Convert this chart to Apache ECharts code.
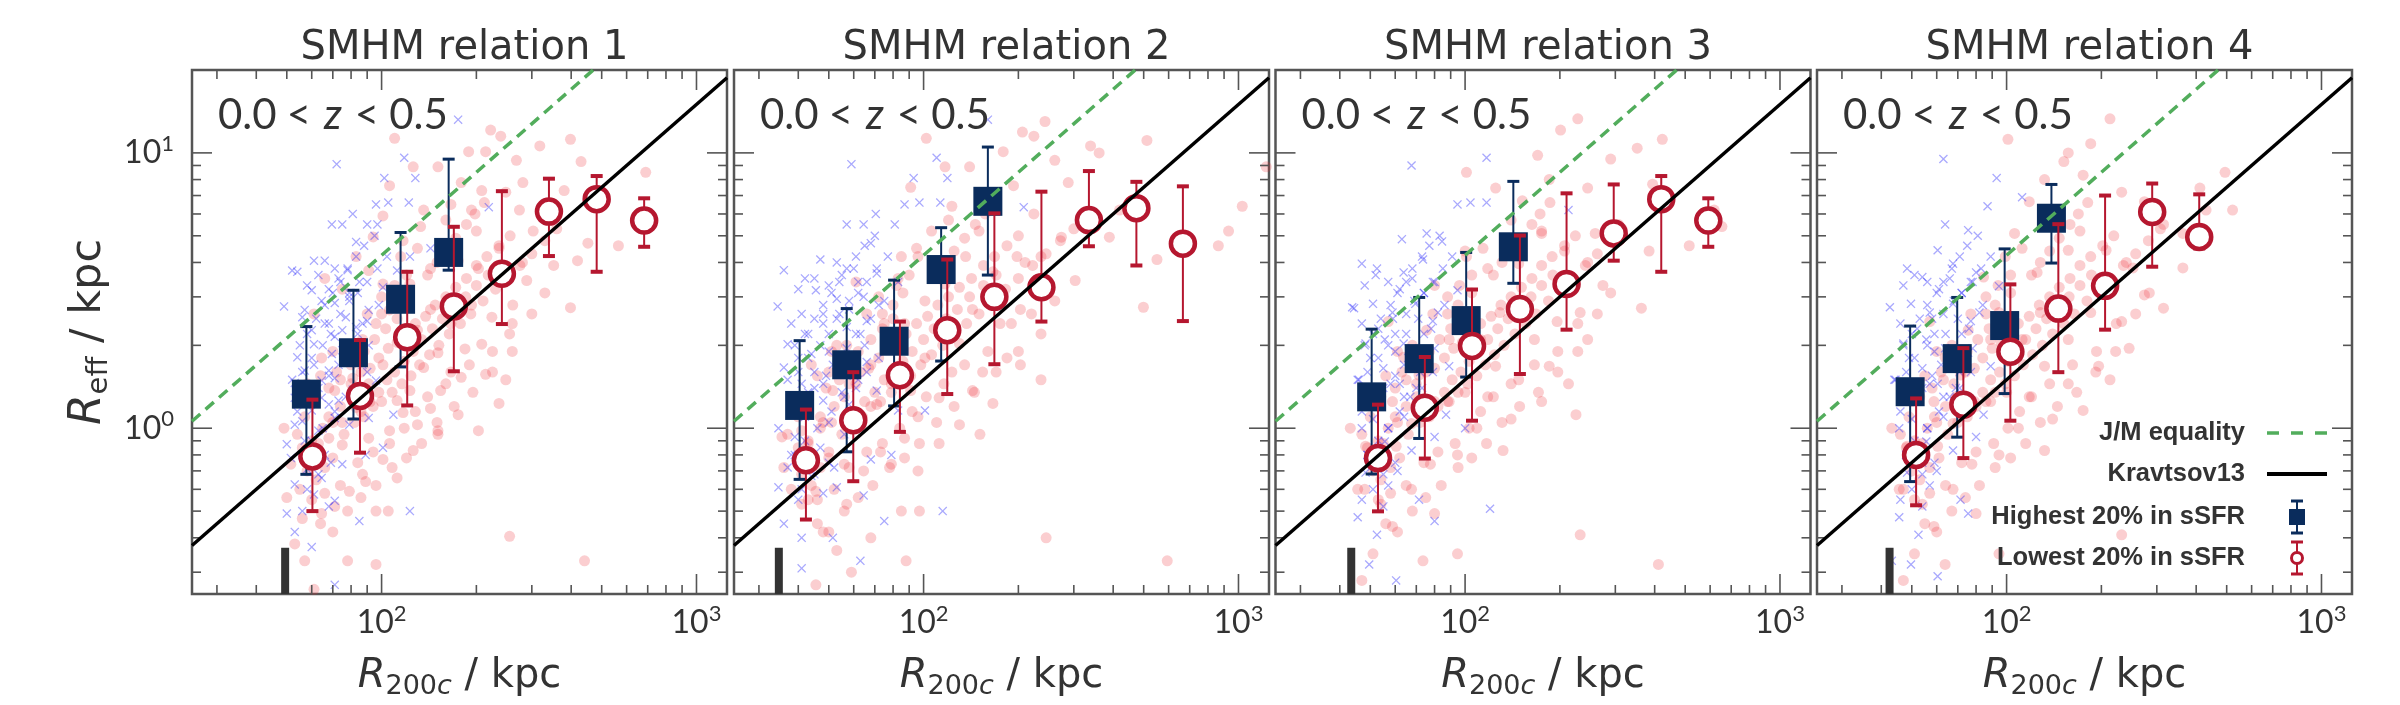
<!DOCTYPE html>
<html>
<head>
<meta charset="utf-8">
<script src="https://cdn.jsdelivr.net/npm/echarts@6.0.0/dist/echarts.min.js"></script>
<style>
html,body{margin:0;padding:0;background:#fff;}
#chart{width:2400px;height:705px;}
</style>
</head>
<body>
<div id="chart"></div>
<script>
// ---------------- DATA ----------------
const panelTitles = ['SMHM relation 1', 'SMHM relation 2', 'SMHM relation 3', 'SMHM relation 4'];
const redshiftLabel = ['0.0', '<', 'z', '<', '0.5'];
const xTitle = ['R', '200', 'c', ' / kpc'];
const yTitle = ['R', 'eff', ' / kpc'];
const legendLabels = ['J/M equality', 'Kravtsov13', 'Highest 20% in sSFR', 'Lowest 20% in sSFR'];

const xRange = [25, 1250];
const yRange = [0.25, 20];
const xTickValues = [30, 40, 50, 60, 70, 80, 90, 100, 200, 300, 400, 500, 600, 700, 800, 900, 1000];
const yTickValues = [0.3, 0.4, 0.5, 0.6, 0.7, 0.8, 0.9, 1, 2, 3, 4, 5, 6, 7, 8, 9, 10];

// reference relations (two end points each)
const jmLine = [[25, 1.06], [470, 20]];
const kravLine = [[25, 0.375], [1250, 18.75]];

// completeness marker (R200c value per panel; drawn from y=0.25 up to massLimitTop)
const massLimit = [49.4, 34.7, 43.5, 42.5];
const massLimitTop = 0.368;

// binned medians: [R200c, Reff, lower, upper]
const hiSSFR1 = [[57.7,1.33,0.68,2.34],[81.4,1.88,1.08,3.17],[114.9,2.94,1.67,5.14],[163.3,4.35,3.75,9.49]];
const loSSFR1 = [[60.3,0.79,0.50,1.27],[85.4,1.31,0.815,2.09],[120.6,2.14,1.21,3.70],[169.6,2.77,1.61,5.39],[241,3.64,2.39,7.26],[340,6.12,4.22,8.06],[482,6.79,3.70,8.24],[682,5.68,4.56,6.84]];
const hiSSFR2 = [[40.4,1.21,0.652,2.08],[57.0,1.70,0.821,2.72],[80.6,2.07,1.205,3.45],[113.7,3.77,1.754,5.35],[160,6.67,3.60,10.5]];
const loSSFR2 = [[42.3,0.765,0.466,1.169],[59.8,1.069,0.642,1.598],[84.1,1.557,0.97,2.44],[118.9,2.27,1.331,4.10],[167.8,3.00,1.708,6.03],[236.7,3.25,2.44,7.23],[335,5.70,4.58,8.59],[474,6.30,3.90,7.85],[666,4.68,2.45,7.56]];
const hiSSFR3 = [[50.5,1.30,0.682,2.29],[71.5,1.79,0.918,2.985],[100.8,2.46,1.534,4.35],[142.3,4.56,3.36,7.88]];
const loSSFR3 = [[52.9,0.779,0.499,1.218],[74.5,1.187,0.776,1.814],[105.2,1.99,1.065,3.19],[149.3,2.71,1.574,5.01],[210,3.34,2.28,7.13],[296.5,5.10,4.06,7.68],[419.7,6.79,3.70,8.24],[592,5.68,4.56,6.84]];
const hiSSFR4 = [[49.4,1.357,0.64,2.35],[69.7,1.79,0.928,2.985],[98.6,2.36,1.336,4.48],[138.8,5.79,3.98,7.68]];
const loSSFR4 = [[51.6,0.80,0.525,1.283],[72.9,1.218,0.779,1.954],[102.8,1.896,1.065,3.33],[146,2.72,1.598,5.51],[205.5,3.29,2.28,7.00],[290,6.10,3.86,7.74],[409,4.95,4.5,7.07]];

// individual galaxies: outer parts of the clouds
const cloudBlue1 = [[72,9.1],[118,9.6],[102,8.1],[128,8.1],[96,6.5],[105,6.6],[122,6.6],[81,6.0],[69.5,5.5],[75,5.5],[90,5.5],[97,5.5],[83,4.75],[61,4.06],[66,4.06],[71,3.8],[78,3.75],[52,3.74],[60,3.17],[49,2.77],[57,2.69],[64.5,2.9],[71,2.85],[79,3.0],[91,2.69],[101,3.25],[112,3.74],[123,4.2],[143,4.5],[219,6.35],[175,13.2],[68,2.4],[75,2.27],[83,2.33],[61,2.02],[69.5,1.86],[77,1.74],[87,1.7],[57,1.62],[64.5,1.49],[71,1.52],[96,1.49],[53,1.29],[60,1.16],[68,1.22],[79,1.03],[91,1.09],[109,1.12],[53,1.03],[50,0.875],[57,0.9],[66,0.8],[75,0.74],[89,0.8],[101,0.85],[53,0.625],[61,0.575],[71,0.545],[85,0.46],[123,0.5],[53,0.42],[60,0.37],[71,0.27]];
const cloudRed1 = [[110,11.3],[222,12.1],[239,11.5],[398,11.2],[318,10.6],[189,10.1],[214,10.1],[268,9.4],[430,9.3],[690,8.5],[126,8.9],[151,8.9],[106,7.6],[179,7.8],[208,7.3],[248,7.2],[281,7.8],[380,7.3],[136,6.2],[166,6.5],[193,6.2],[274,6.2],[303,5.2],[452,4.7],[565,4.6],[419,4.06],[352,3.9],[289,3.44],[236,4.5],[203,3.8],[175,4.06],[143,3.8],[123,3.34],[398,2.74],[261,2.8],[224,2.53],[193,2.8],[166,2.4],[143,2.7],[130,2.27],[255,2.2],[208,2.02],[184,1.94],[151,1.88],[136,1.66],[179,1.53],[214,1.57],[248,1.5],[154,1.37],[123,1.37],[112,1.26],[143,1.18],[175,1.12],[130,1.03],[106,0.98],[151,0.95],[126,0.83],[101,0.77],[87,0.68],[96,0.5],[105,0.5],[112,0.66],[96,0.32],[78,0.33],[255,0.405],[441,0.33],[89,0.64],[79,0.59],[71,0.52],[64.5,0.49],[56,0.47],[53,0.38],[57,0.33],[61,0.26],[50,0.56],[49,1.0],[51.5,0.74],[57,0.78],[68,0.92],[75,1.05],[83,1.19],[91,1.45],[81,1.52],[71,1.37],[101,1.7],[87,2.1],[96,2.4],[106,2.69],[117,2.85],[101,3.34],[91,3.74],[83,4.2],[94,4.95],[117,4.8],[133,5.4],[101,5.9],[75,3.2],[66,3.5],[61,2.6],[64.5,1.8],[58,1.45],[75,0.87],[91,0.92],[117,1.14],[203,0.98],[236,1.23],[166,1.6],[151,0.98]];
const cloudBlue2 = [[59,9.1],[110,9.6],[93,8.1],[119,8.1],[87,6.5],[97,6.6],[113,6.6],[208,6.35],[160,13.2],[70.5,6.0],[57,5.5],[64.5,5.5],[81,5.5],[68,4.7],[47,4.1],[53,4.0],[60,3.8],[36,3.75],[42,3.5],[71,3.65],[83,3.4],[45.5,3.17],[53,2.95],[64.5,3.0],[34.4,2.77],[41,2.6],[48,2.4],[57,2.33],[75,2.9],[37,2.02],[44,1.86],[51.5,1.7],[66,1.74],[77,1.97],[36,1.66],[41,1.45],[48,1.26],[58,1.22],[71,1.37],[83,1.16],[101,1.16],[34.6,1.0],[39,0.93],[47,0.85],[56,0.95],[68,0.77],[79,0.8],[37,0.72],[44,0.67],[53,0.61],[64.5,0.57],[34.6,0.61],[36,0.45],[41,0.4],[51.5,0.4],[75,0.46],[115,0.5],[41,0.31],[63,0.33]];
const cloudRed2 = [[102,11.3],[206,11.9],[243,13.0],[224,11.5],[512,11.1],[339,10.6],[361,10.0],[179,10.1],[261,9.4],[1225,8.9],[117,8.9],[140,8.9],[91,7.5],[288,7.8],[193,7.6],[166,6.9],[123,6.4],[224,6.0],[419,6.2],[1028,6.4],[389,4.94],[551,4.1],[863,4.6],[930,5.2],[274,4.94],[236,4.2],[198,4.2],[166,3.7],[136,4.2],[117,3.34],[303,3.44],[499,2.75],[261,2.9],[203,2.7],[175,2.4],[143,2.7],[130,2.03],[236,2.2],[184,1.8],[154,1.6],[236,1.5],[203,1.7],[101,1.8],[123,1.6],[143,1.37],[166,1.23],[112,1.29],[91,1.37],[96,1.1],[130,1.03],[151,0.95],[112,0.88],[87,0.92],[79,0.74],[96,0.7],[85,0.5],[97,0.5],[68,0.4],[59,0.3],[88,0.33],[245,0.4],[594,0.33],[45.5,0.27],[53,0.36],[48,0.42],[41,0.53],[36,0.72],[45.5,0.59],[57,0.53],[64.5,0.7],[73,0.82],[50,0.82],[41,0.98],[35.5,0.93],[48,1.05],[60,1.03],[71,1.22],[61,1.45],[51.5,1.37],[44,1.7],[53,2.0],[68,1.7],[79,1.45],[87,2.4],[75,2.4],[101,2.9],[83,3.5],[96,4.2],[106,5.2],[61,3.4],[41,1.2],[56,0.74]];
const cloudBlue3 = [[67.6,9.0],[117,9.6],[94.6,6.5],[104,6.6],[117,6.6],[213,6.2],[75.5,5.1],[63,4.86],[84.5,4.77],[47,3.96],[52.5,3.8],[63.8,3.68],[73.5,4.1],[44.4,2.73],[51,2.83],[58.8,2.63],[69.5,2.83],[82,2.63],[94.6,3.17],[48.3,2.03],[55.6,2.1],[63.8,2.03],[75.5,1.88],[89,1.68],[45.6,1.5],[52.5,1.35],[62,1.45],[73.5,1.25],[87,1.12],[47,1.0],[55.6,0.895],[67.6,0.83],[80,0.93],[100,1.0],[48.3,0.69],[57,0.62],[71.4,0.55],[45.6,0.475],[52.5,0.41],[80,0.46],[120,0.51],[49.6,0.32],[60.4,0.28],[43.8,2.75]];
const cloudRed3 = [[228,13.3],[201,12.1],[423,11.2],[352,10.4],[290,9.5],[101,8.5],[170,9.8],[125,7.45],[152,6.7],[185,8.0],[245,7.45],[394,7.7],[618,6.2],[654,5.4],[515,4.6],[384,4.4],[307,5.5],[363,2.73],[259,5.1],[207,4.4],[175,5.1],[148,3.96],[118,3.8],[100,4.4],[80,3.3],[274,3.3],[232,2.63],[196,2.44],[166,2.1],[129,2.63],[112,2.1],[245,2.1],[185,1.68],[148,1.5],[125,1.68],[213,1.45],[225,1.12],[175,1.25],[140,1.08],[118,1.3],[100,1.35],[89,1.25],[109,1.0],[132,0.83],[94.6,0.8],[77.6,0.74],[67.6,0.6],[80,0.49],[58.8,0.44],[94.6,0.35],[232,0.41],[411,0.32],[73.5,0.33],[51,0.35],[47,0.28],[45.6,0.6],[54,0.53],[48.3,0.86],[43.2,1.0],[60.4,0.86],[67.6,1.04],[58.8,1.25],[48.3,1.35],[71.4,1.56],[63.8,1.81],[89,2.1],[75.5,2.27],[94.6,2.63],[57,2.44]];
const cloudBlue4 = [[63,9.5],[93,8.1],[87,6.4],[112,6.9],[63.8,5.5],[75.5,5.24],[60.4,4.43],[48.3,3.8],[54,3.54],[67.6,3.96],[80,3.68],[42.6,2.75],[49.7,2.83],[57,2.63],[67.6,2.83],[82,2.63],[94.6,3.28],[47,2.03],[55.6,2.1],[63.8,1.95],[75.5,1.88],[89,1.68],[44.4,1.5],[51,1.35],[60.4,1.45],[73.5,1.25],[84.5,1.12],[45.6,1.0],[55.6,0.895],[67.6,0.83],[80,0.93],[48.3,0.69],[57,0.62],[71.4,0.55],[45.6,0.475],[52.5,0.41],[75.5,0.49],[49.7,0.32],[60.4,0.29],[43.2,0.33]];
const cloudRed4 = [[213,13.3],[185,10.8],[157,10.0],[152,9.3],[101,11.2],[494,8.5],[411,7.45],[132,8.0],[175,8.3],[232,7.2],[522,6.2],[315,5.5],[274,6.65],[363,5.1],[118,6.65],[106,5.1],[157,4.43],[207,4.43],[252,3.82],[315,2.73],[125,3.68],[84.5,3.54],[274,3.05],[232,2.44],[185,2.63],[157,2.1],[128,2.63],[112,2.1],[245,1.95],[196,1.68],[157,1.45],[132,1.68],[213,1.5],[175,1.16],[140,1.08],[118,1.3],[100,1.35],[89,1.25],[109,1.0],[132,0.83],[94.6,0.8],[77.6,0.74],[67.6,0.6],[80,0.49],[58.8,0.44],[94.6,0.35],[232,0.41],[63.8,0.32],[51,0.35],[47,0.28],[45.6,0.6],[54,0.53],[48.3,0.86],[43.2,1.0],[60.4,0.86],[67.6,1.04],[58.8,1.25],[48.3,1.35],[71.4,1.56],[63.8,1.81],[89,2.1],[75.5,2.27],[94.6,2.63],[57,2.44],[363,3.82],[430,6.2]];

// dense cores of the clouds
const coreBlue1 = [[54,3.7],[58,3.3],[63,3.6],[68,3.2],[73,3.5],[79,3.1],[85,3.4],[56,2.53],[60,2.27],[66,2.4],[71,2.15],[77,2.53],[87,2.4],[54,1.81],[61,1.7],[68,1.62],[75,1.92],[83,1.81],[91,2.0],[53,1.46],[58,1.36],[64.5,1.29],[73,1.26],[81,1.38],[56,1.06],[63,0.98],[71,1.09],[51.5,0.78],[58,0.71],[64.5,0.66],[56,0.5],[68,0.52],[50,0.49],[55,2.0],[58,2.2],[62,2.5],[66,2.8],[70,3.1],[74,3.4],[78,3.8],[83,4.2],[88,4.6],[95,5.0],[52,1.5],[56,1.6],[60,1.8],[65,2.0],[69,2.2],[74,2.6],[79,2.9],[84,3.1],[90,3.4],[97,3.8],[104,4.2],[54,1.15],[58,1.25],[63,1.4],[68,1.55],[73,1.7],[78,1.95],[84,2.2],[90,2.45],[98,2.8],[56,0.8],[60,0.9],[65,1.0],[71,1.15],[77,1.3],[83,1.4],[90,1.6],[58,0.6],[63,0.68],[69,0.75]];
const coreRed1 = [[55,0.6],[58,0.7],[62,0.65],[66,0.72],[70,0.78],[63,0.88],[68,1.1],[74,1.2],[80,1.3],[86,1.15],[92,1.25],[98,1.35],[104,1.5],[110,1.6],[118,1.75],[126,1.9],[134,2.1],[145,2.3],[156,2.5],[170,2.7],[185,3.0],[200,3.3],[218,3.6],[88,1.9],[95,2.1],[103,2.3],[112,2.5],[80,1.7],[72,1.6],[62,1.3],[57,1.1],[54,0.95],[66,0.58],[74,0.62],[84,0.75],[94,0.82],[106,0.88],[118,1.0],[128,1.15],[140,1.3],[160,1.45],[190,1.7],[225,1.9],[260,2.4],[300,2.6],[330,3.1],[280,4.0],[200,5.2],[160,5.7],[130,4.5],[115,4.2],[100,3.0],[120,3.1],[60,0.9],[65,1.0],[70,1.05],[76,0.95],[82,1.05],[88,1.1],[94,1.2],[100,1.25],[108,1.35],[116,1.45],[124,1.55],[132,1.7],[142,1.85],[152,2.0],[164,2.2],[178,2.4],[192,2.6],[210,2.9],[230,3.2],[250,3.5],[275,3.9],[300,4.3],[330,4.8],[360,5.3],[68,1.4],[74,1.5],[80,1.45],[86,1.6],[92,1.65],[98,1.8],[105,1.95],[112,2.05],[120,2.2],[128,2.4],[138,2.55],[148,2.8],[160,3.0],[172,3.25],[186,3.5],[200,3.9],[216,4.2],[236,4.6],[256,5.0],[140,3.6],[150,4.0],[160,4.4],[172,4.9],[186,5.5],[198,6.0],[212,6.6],[110,3.3],[120,3.6],[100,2.6],[108,2.8],[90,2.6],[78,2.0],[70,1.9],[64,1.55],[59,1.25],[56,0.85],[60,0.55],[64,0.45],[70,0.42],[78,0.5],[86,0.56],[96,0.62],[108,0.72],[120,0.78],[134,0.88],[150,1.05],[170,1.2],[195,1.35],[225,1.6],[260,1.9]];
const coreBlue2 = [[40,3.2],[45,3.5],[50,3.3],[55,3.6],[62,3.4],[38,2.4],[43,2.2],[48,2.6],[53,2.5],[58,2.7],[63,2.2],[68,2.5],[40,1.8],[45,1.6],[50,1.9],[55,1.8],[60,1.55],[65,2.0],[72,1.8],[38,1.25],[43,1.35],[48,1.45],[55,1.35],[62,1.5],[42,1.1],[50,1.05],[58,1.1],[38,0.8],[45,0.75],[52,0.72],[40,0.55],[48,0.58],[39,2.0],[42,2.2],[45,2.5],[48,2.8],[51,3.1],[54,3.4],[57,3.8],[61,4.2],[65,4.6],[70,5.0],[37,1.5],[40,1.6],[43,1.8],[47,2.0],[50,2.2],[54,2.6],[58,2.9],[62,3.1],[66,3.4],[71,3.8],[77,4.2],[38,1.15],[41,1.25],[45,1.4],[49,1.55],[53,1.7],[57,1.95],[61,2.2],[66,2.45],[72,2.8],[39,0.8],[42,0.9],[46,1.0],[51,1.15],[56,1.3],[61,1.4],[66,1.6],[41,0.6],[45,0.68],[50,0.75]];
const coreRed2 = [[38,0.6],[41,0.68],[44,0.62],[47,0.72],[50,0.78],[43,0.88],[47,1.1],[52,1.2],[56,1.3],[60,1.15],[65,1.25],[70,1.35],[75,1.5],[80,1.6],[86,1.75],[92,1.9],[100,2.1],[108,2.3],[118,2.5],[128,2.7],[140,3.0],[155,3.3],[170,3.6],[62,1.9],[68,2.1],[74,2.3],[80,2.5],[56,1.7],[50,1.6],[43,1.3],[40,1.1],[37,0.95],[46,0.55],[52,0.6],[58,0.72],[66,0.82],[74,0.88],[84,1.0],[92,1.15],[102,1.3],[116,1.45],[135,1.7],[160,1.9],[190,2.4],[220,2.6],[250,3.1],[210,4.0],[150,5.2],[120,5.7],[95,4.5],[85,4.2],[72,3.0],[86,3.1],[43,0.9],[47,1.0],[51,1.05],[55,0.95],[59,1.05],[64,1.1],[68,1.2],[73,1.25],[79,1.35],[85,1.45],[91,1.55],[98,1.7],[106,1.85],[115,2.0],[125,2.2],[137,2.4],[150,2.6],[165,2.9],[182,3.2],[200,3.5],[222,3.9],[245,4.3],[272,4.8],[300,5.3],[49,1.4],[54,1.5],[58,1.45],[63,1.6],[67,1.65],[72,1.8],[77,1.95],[82,2.05],[88,2.2],[95,2.4],[103,2.55],[111,2.8],[120,3.0],[130,3.25],[142,3.5],[155,3.9],[168,4.2],[184,4.6],[200,5.0],[108,3.6],[116,4.0],[125,4.4],[135,4.9],[146,5.5],[157,6.0],[170,6.6],[82,3.3],[90,3.6],[74,2.6],[80,2.8],[66,2.6],[57,2.0],[51,1.9],[46,1.55],[42,1.25],[40,0.85],[43,0.55],[46,0.45],[50,0.42],[56,0.5],[62,0.56],[69,0.62],[78,0.72],[87,0.78],[97,0.88],[110,1.05],[125,1.2],[145,1.35],[170,1.6],[200,1.9]];
const coreBlue3 = [[48,3.3],[52,3.6],[57,3.4],[62,3.2],[68,3.5],[74,3.1],[80,3.4],[47,2.4],[53,2.3],[59,2.5],[65,2.2],[71,2.5],[78,2.3],[50,1.8],[55,1.65],[60,1.9],[66,1.8],[72,1.6],[80,1.95],[48,1.25],[53,1.35],[58,1.45],[64,1.3],[70,1.4],[51,1.08],[57,1.0],[64,1.1],[49,0.8],[55,0.75],[61,0.7],[47,0.55],[55,0.52],[48,2.0],[51,2.2],[54,2.5],[58,2.8],[61,3.1],[65,3.4],[68,3.8],[73,4.2],[77,4.6],[83,5.0],[46,1.5],[49,1.6],[53,1.8],[57,2.0],[60,2.2],[65,2.6],[69,2.9],[74,3.1],[79,3.4],[85,3.8],[91,4.2],[47,1.15],[51,1.25],[55,1.4],[60,1.55],[64,1.7],[68,1.95],[74,2.2],[79,2.45],[86,2.8],[49,0.8],[53,0.9],[57,1.0],[62,1.15],[67,1.3],[73,1.4],[79,1.6],[51,0.6],[55,0.68],[60,0.75]];
const coreRed3 = [[48,0.6],[51,0.7],[54,0.65],[58,0.72],[62,0.78],[55,0.88],[60,1.1],[65,1.2],[70,1.3],[75,1.15],[80,1.25],[86,1.35],[91,1.5],[97,1.6],[103,1.75],[110,1.9],[118,2.1],[127,2.3],[137,2.5],[149,2.7],[162,3.0],[175,3.3],[190,3.6],[77,1.9],[83,2.1],[90,2.3],[98,2.5],[70,1.7],[63,1.6],[54,1.3],[50,1.1],[47,0.95],[58,0.58],[65,0.62],[74,0.75],[82,0.82],[93,0.88],[103,1.0],[112,1.15],[123,1.3],[140,1.45],[166,1.7],[197,1.9],[228,2.4],[263,2.6],[290,3.1],[245,4.0],[175,5.2],[140,5.7],[114,4.5],[101,4.2],[88,3.0],[105,3.1],[53,0.9],[57,1.0],[61,1.05],[66,0.95],[72,1.05],[77,1.1],[82,1.2],[88,1.25],[95,1.35],[102,1.45],[109,1.55],[116,1.7],[124,1.85],[133,2.0],[144,2.2],[156,2.4],[168,2.6],[184,2.9],[201,3.2],[219,3.5],[241,3.9],[263,4.3],[289,4.8],[315,5.3],[60,1.4],[65,1.5],[70,1.45],[75,1.6],[80,1.65],[86,1.8],[92,1.95],[98,2.05],[105,2.2],[112,2.4],[121,2.55],[130,2.8],[140,3.0],[151,3.25],[163,3.5],[175,3.9],[189,4.2],[207,4.6],[224,5.0],[123,3.6],[131,4.0],[140,4.4],[151,4.9],[163,5.5],[173,6.0],[186,6.6],[96,3.3],[105,3.6],[88,2.6],[95,2.8],[79,2.6],[68,2.0],[61,1.9],[56,1.55],[52,1.25],[49,0.85],[53,0.55],[56,0.45],[61,0.42],[68,0.5],[75,0.56],[84,0.62],[95,0.72],[105,0.78],[117,0.88],[131,1.05],[149,1.2],[171,1.35],[197,1.6],[228,1.9]];
const coreBlue4 = [[47,3.3],[51,3.6],[56,3.4],[61,3.2],[66,3.5],[72,3.1],[78,3.4],[46,2.4],[52,2.3],[58,2.5],[64,2.2],[70,2.5],[76,2.3],[49,1.8],[54,1.65],[59,1.9],[65,1.8],[71,1.6],[78,1.95],[47,1.25],[52,1.35],[57,1.45],[63,1.3],[69,1.4],[50,1.08],[56,1.0],[63,1.1],[48,0.8],[54,0.75],[60,0.7],[46,0.55],[54,0.52],[47,2.0],[50,2.2],[53,2.5],[56,2.8],[60,3.1],[63,3.4],[67,3.8],[71,4.2],[75,4.6],[81,5.0],[44,1.5],[48,1.6],[51,1.8],[56,2.0],[59,2.2],[63,2.6],[68,2.9],[72,3.1],[77,3.4],[83,3.8],[89,4.2],[46,1.15],[50,1.25],[54,1.4],[58,1.55],[62,1.7],[67,1.95],[72,2.2],[77,2.45],[84,2.8],[48,0.8],[51,0.9],[56,1.0],[61,1.15],[66,1.3],[71,1.4],[77,1.6],[50,0.6],[54,0.68],[59,0.75]];
const coreRed4 = [[47,0.6],[50,0.7],[53,0.65],[57,0.72],[61,0.78],[54,0.88],[59,1.1],[64,1.2],[69,1.3],[74,1.15],[79,1.25],[84,1.35],[89,1.5],[95,1.6],[101,1.75],[108,1.9],[115,2.1],[124,2.3],[134,2.5],[146,2.7],[158,3.0],[171,3.3],[186,3.6],[75,1.9],[81,2.1],[88,2.3],[96,2.5],[68,1.7],[62,1.6],[53,1.3],[49,1.1],[46,0.95],[57,0.58],[64,0.62],[72,0.75],[80,0.82],[91,0.88],[101,1.0],[110,1.15],[120,1.3],[137,1.45],[162,1.7],[193,1.9],[223,2.4],[257,2.6],[284,3.1],[240,4.0],[171,5.2],[137,5.7],[112,4.5],[99,4.2],[86,3.0],[103,3.1],[51,0.9],[56,1.0],[60,1.05],[65,0.95],[70,1.05],[75,1.1],[80,1.2],[86,1.25],[92,1.35],[99,1.45],[106,1.55],[113,1.7],[121,1.85],[130,2.0],[140,2.2],[152,2.4],[164,2.6],[180,2.9],[197,3.2],[214,3.5],[235,3.9],[257,4.3],[282,4.8],[308,5.3],[58,1.4],[63,1.5],[68,1.45],[74,1.6],[79,1.65],[84,1.8],[90,1.95],[96,2.05],[103,2.2],[109,2.4],[118,2.55],[127,2.8],[137,3.0],[147,3.25],[159,3.5],[171,3.9],[185,4.2],[202,4.6],[219,5.0],[120,3.6],[128,4.0],[137,4.4],[147,4.9],[159,5.5],[169,6.0],[181,6.6],[94,3.3],[103,3.6],[86,2.6],[92,2.8],[77,2.6],[67,2.0],[60,1.9],[55,1.55],[50,1.25],[48,0.85],[51,0.55],[55,0.45],[60,0.42],[67,0.5],[74,0.56],[82,0.62],[92,0.72],[103,0.78],[115,0.88],[128,1.05],[145,1.2],[167,1.35],[192,1.6],[222,1.9]];

const hiSSFR = [hiSSFR1, hiSSFR2, hiSSFR3, hiSSFR4];
const loSSFR = [loSSFR1, loSSFR2, loSSFR3, loSSFR4];
const cloudBlue = [cloudBlue1.concat(coreBlue1), cloudBlue2.concat(coreBlue2), cloudBlue3.concat(coreBlue3), cloudBlue4.concat(coreBlue4)];
const cloudRed = [cloudRed1.concat(coreRed1), cloudRed2.concat(coreRed2), cloudRed3.concat(coreRed3), cloudRed4.concat(coreRed4)];

// ---------------- STYLE / LAYOUT ----------------
const NAVY = '#0a2c5c';
const RED = '#b5172f';
const GREEN = '#52ad5c';
const FRAME = '#555555';
const TXT = '#333333';
const gridLefts = [192, 734, 1275.5, 1817];
const gridTop = 70, gridW = 535, gridH = 529;
const XMARK = 'path://M1,0L5,4L9,0L10,1L6,5L10,9L9,10L5,6L1,10L0,9L4,5L0,1Z';

const chart = echarts.init(document.getElementById('chart'), null, {renderer: 'canvas'});

function isDecade(v) {
  const e = Math.log10(v);
  return Math.abs(e - Math.round(e)) < 1e-6;
}
function powLabel(v) {
  const e = Math.log10(v);
  const r = Math.round(e);
  return Math.abs(e - r) < 1e-4 ? '{b|10}{s|' + r + '}' : '';
}
const powRich = {
  b: {fontSize: 32, fontFamily: 'Lato', color: TXT, lineHeight: 40, verticalAlign: 'middle'},
  s: {fontSize: 22, fontFamily: 'Lato', color: TXT, lineHeight: 26, verticalAlign: 'top'}
};

function tickSeries(i, dir) {
  const vals = dir === 'x' ? xTickValues : yTickValues;
  return {
    type: 'custom', xAxisIndex: i, yAxisIndex: i, silent: true, z: 2,
    encode: dir === 'x' ? {x: 0} : {y: 0},
    data: vals.map(v => [v]),
    renderItem: function (params, api) {
      const v = api.value(0);
      const len = isDecade(v) ? 20 : 9;
      const st = {stroke: FRAME, lineWidth: 1.6};
      if (dir === 'x') {
        const a = api.coord([v, yRange[0]]);
        const b = api.coord([v, yRange[1]]);
        return {type: 'group', children: [
          {type: 'line', shape: {x1: a[0], y1: a[1], x2: a[0], y2: a[1] - len}, style: st},
          {type: 'line', shape: {x1: b[0], y1: b[1], x2: b[0], y2: b[1] + len}, style: st}
        ]};
      }
      const a = api.coord([xRange[0], v]);
      const b = api.coord([xRange[1], v]);
      return {type: 'group', children: [
        {type: 'line', shape: {x1: a[0], y1: a[1], x2: a[0] + len, y2: a[1]}, style: st},
        {type: 'line', shape: {x1: b[0], y1: b[1], x2: b[0] - len, y2: b[1]}, style: st}
      ]};
    }
  };
}

function errSeries(i, data, color, lw, capW, capLw, z) {
  return {
    type: 'custom', xAxisIndex: i, yAxisIndex: i, silent: true, z: z,
    encode: {x: 0, y: 1},
    data: data,
    renderItem: function (params, api) {
      const x = api.value(0);
      const a = api.coord([x, api.value(2)]);
      const b = api.coord([x, api.value(3)]);
      return {type: 'group', children: [
        {type: 'line', shape: {x1: a[0], y1: a[1], x2: b[0], y2: b[1]}, style: {stroke: color, lineWidth: lw}},
        {type: 'line', shape: {x1: a[0] - capW / 2, y1: a[1], x2: a[0] + capW / 2, y2: a[1]}, style: {stroke: color, lineWidth: capLw}},
        {type: 'line', shape: {x1: b[0] - capW / 2, y1: b[1], x2: b[0] + capW / 2, y2: b[1]}, style: {stroke: color, lineWidth: capLw}}
      ]};
    }
  };
}

const grids = [], xAxes = [], yAxes = [], series = [], titles = [], graphics = [];

for (let i = 0; i < 4; i++) {
  grids.push({left: gridLefts[i], top: gridTop, width: gridW, height: gridH,
    show: true, borderColor: FRAME, borderWidth: 2.5, backgroundColor: 'transparent', containLabel: false});
  xAxes.push({
    type: 'log', logBase: 10, gridIndex: i, min: xRange[0], max: xRange[1],
    axisLine: {show: false}, axisTick: {show: false}, splitLine: {show: false}, minorTick: {show: false},
    axisLabel: {show: true, margin: 9, formatter: powLabel, rich: powRich, showMinLabel: true, showMaxLabel: true, hideOverlap: false},
    name: '{i|' + xTitle[0] + '}{s|' + xTitle[1] + '}{si|' + xTitle[2] + '}{n|' + xTitle[3] + '}',
    nameLocation: 'middle', nameGap: 60,
    nameTextStyle: {rich: {
      i: {fontSize: 40, fontFamily: 'DejaVu Sans', fontStyle: 'italic', color: TXT, lineHeight: 46, verticalAlign: 'middle'},
      s: {fontSize: 27, fontFamily: 'DejaVu Sans', color: TXT, lineHeight: 27, verticalAlign: 'bottom'},
      si: {fontSize: 27, fontFamily: 'DejaVu Sans', fontStyle: 'italic', color: TXT, lineHeight: 27, verticalAlign: 'bottom'},
      n: {fontSize: 40, fontFamily: 'DejaVu Sans', color: TXT, lineHeight: 46, verticalAlign: 'middle'}
    }}
  });
  yAxes.push({
    type: 'log', logBase: 10, gridIndex: i, min: yRange[0], max: yRange[1],
    axisLine: {show: false}, axisTick: {show: false}, splitLine: {show: false}, minorTick: {show: false},
    axisLabel: {show: i === 0, margin: 18, formatter: powLabel, rich: powRich, hideOverlap: false},
    name: i === 0 ? '{i|' + yTitle[0] + '}{s|' + yTitle[1] + '}{n|' + yTitle[2] + '}' : '',
    nameLocation: 'middle', nameRotate: 90, nameGap: 78,
    nameTextStyle: {rich: {
      i: {fontSize: 44, fontFamily: 'DejaVu Sans', fontStyle: 'italic', color: TXT, lineHeight: 50, verticalAlign: 'middle'},
      s: {fontSize: 29, fontFamily: 'DejaVu Sans', color: TXT, lineHeight: 29, verticalAlign: 'bottom'},
      n: {fontSize: 43, fontFamily: 'DejaVu Sans', color: TXT, lineHeight: 50, verticalAlign: 'middle'}
    }}
  });
  titles.push({text: panelTitles[i], left: gridLefts[i] + gridW / 2, top: 24, textAlign: 'center',
    textStyle: {fontFamily: 'DejaVu Sans', fontSize: 40, fontWeight: 'normal', color: TXT}});

  const ax = {xAxisIndex: i, yAxisIndex: i};
  series.push(Object.assign({type: 'scatter', name: 'Lowest-sSFR galaxies', data: cloudRed[i], symbol: 'circle', symbolSize: 11,
    itemStyle: {color: 'rgba(240,50,60,0.24)', opacity: 1}, silent: true, z: 1}, ax));
  series.push(Object.assign({type: 'scatter', name: 'Highest-sSFR galaxies', data: cloudBlue[i], symbol: XMARK, symbolSize: 9,
    itemStyle: {color: 'rgba(40,40,250,0.4)', opacity: 1}, silent: true, z: 1}, ax));
  series.push(tickSeries(i, 'x'));
  series.push(tickSeries(i, 'y'));
  series.push(errSeries(i, hiSSFR[i], NAVY, 2, 12, 3, 3));
  series.push(Object.assign({type: 'scatter', name: legendLabels[2], data: hiSSFR[i].map(d => [d[0], d[1]]),
    symbol: 'rect', symbolSize: 29, itemStyle: {color: NAVY, opacity: 1}, z: 4}, ax));
  series.push(errSeries(i, loSSFR[i], RED, 2, 12, 4, 5));
  series.push(Object.assign({type: 'scatter', name: legendLabels[3], data: loSSFR[i].map(d => [d[0], d[1]]),
    symbol: 'circle', symbolSize: 24, itemStyle: {color: '#ffffff', borderColor: RED, borderWidth: 4.5, opacity: 1}, z: 6}, ax));
  series.push(Object.assign({type: 'line', name: legendLabels[0], data: jmLine, symbol: 'none', silent: true,
    lineStyle: {color: GREEN, width: 3.5, type: [11, 7]}, z: 7}, ax));
  series.push(Object.assign({type: 'line', name: legendLabels[1], data: kravLine, symbol: 'none', silent: true,
    lineStyle: {color: '#000000', width: 3.5}, z: 7}, ax));
  series.push(Object.assign({type: 'line', name: 'completeness', data: [[massLimit[i], yRange[0]], [massLimit[i], massLimitTop]],
    symbol: 'none', silent: true, lineStyle: {color: '#333333', width: 8, cap: 'butt'}, z: 7}, ax));

  // redshift label
  graphics.push({type: 'text', x: gridLefts[i] + 26, y: 115, z: 10,
    style: {
      text: '{n|' + redshiftLabel[0] + '}{o|' + redshiftLabel[1] + '}{z|' + redshiftLabel[2] + '}{o|' + redshiftLabel[3] + '}{n|' + redshiftLabel[4] + '}',
      textAlign: 'left', align: 'left', textVerticalAlign: 'middle', verticalAlign: 'middle',
      rich: {
        n: {fontSize: 42, fontFamily: 'Lato', fill: TXT},
        o: {fontSize: 42, fontFamily: 'Lato', fill: TXT, padding: [0, 10, 0, 10]},
        z: {fontSize: 42, fontFamily: 'Lato', fontStyle: 'italic', fill: TXT, padding: [0, 3, 0, 3]}
      }
    }});
}

// legend (inside panel 4)
const LEG_X = 2245, LEG_FONT = 'bold 25.5px "Liberation Sans", Arial, sans-serif';
const legY = [433, 474, 517, 558];
legendLabels.forEach((t, k) => {
  graphics.push({type: 'text', x: LEG_X, y: legY[k], z: 10,
    style: {text: t, font: LEG_FONT, fill: TXT, textAlign: 'right', align: 'right', textVerticalAlign: 'middle', verticalAlign: 'middle'}});
});
graphics.push({type: 'line', z: 10, shape: {x1: 2267, y1: legY[0], x2: 2327, y2: legY[0]}, style: {stroke: GREEN, lineWidth: 3.5, lineDash: [12, 12]}});
graphics.push({type: 'line', z: 10, shape: {x1: 2267, y1: legY[1], x2: 2327, y2: legY[1]}, style: {stroke: '#000', lineWidth: 4}});
// square with error bar
graphics.push({type: 'line', z: 10, shape: {x1: 2297, y1: legY[2] - 16, x2: 2297, y2: legY[2] + 16}, style: {stroke: NAVY, lineWidth: 2}});
graphics.push({type: 'line', z: 10, shape: {x1: 2291, y1: legY[2] - 16, x2: 2303, y2: legY[2] - 16}, style: {stroke: NAVY, lineWidth: 3}});
graphics.push({type: 'line', z: 10, shape: {x1: 2291, y1: legY[2] + 16, x2: 2303, y2: legY[2] + 16}, style: {stroke: NAVY, lineWidth: 3}});
graphics.push({type: 'rect', z: 11, shape: {x: 2289, y: legY[2] - 8, width: 16, height: 16}, style: {fill: NAVY}});
// circle with error bar
graphics.push({type: 'line', z: 10, shape: {x1: 2297, y1: legY[3] - 16, x2: 2297, y2: legY[3] + 16}, style: {stroke: RED, lineWidth: 2}});
graphics.push({type: 'line', z: 10, shape: {x1: 2291, y1: legY[3] - 16, x2: 2303, y2: legY[3] - 16}, style: {stroke: RED, lineWidth: 3}});
graphics.push({type: 'line', z: 10, shape: {x1: 2291, y1: legY[3] + 16, x2: 2303, y2: legY[3] + 16}, style: {stroke: RED, lineWidth: 3}});
graphics.push({type: 'circle', z: 11, shape: {cx: 2297, cy: legY[3], r: 5.5}, style: {fill: '#fff', stroke: RED, lineWidth: 3}});

chart.setOption({
  animation: false,
  backgroundColor: '#ffffff',
  title: titles,
  grid: grids,
  xAxis: xAxes,
  yAxis: yAxes,
  series: series,
  graphic: graphics
});
</script>
</body>
</html>
